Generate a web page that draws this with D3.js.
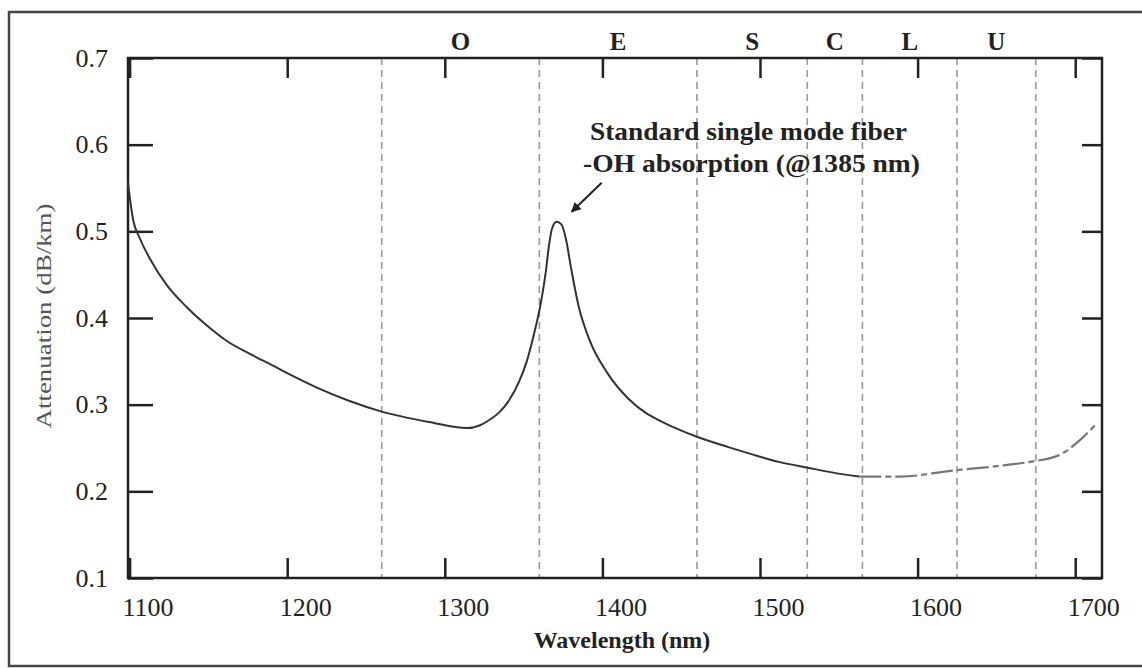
<!DOCTYPE html>
<meta charset="utf-8">
<body style="margin:0;background:#fff">
<script src="https://cdn.jsdelivr.net/npm/d3@7"></script>
<script>
	// data
	var wavelength = [1099, 1102, 1107, 1113, 1124, 1136, 1150, 1163, 1177, 1191, 1206, 1221, 1240, 1260, 1290, 1314,
		1322, 1328, 1335, 1340, 1347, 1352, 1356, 1361, 1364, 1366, 1368, 1371, 1374, 1377, 1380, 1385, 1392, 1403,
		1417, 1428, 1436, 1449, 1460, 1480, 1500, 1512, 1531, 1548, 1563, 1589, 1622, 1650, 1671, 1690, 1703, 1714];
	var attenuation = [0.556, 0.516, 0.490, 0.468, 0.437, 0.413, 0.390, 0.372, 0.358, 0.345, 0.331, 0.318, 0.304, 0.292, 0.280, 0.273,
		0.276, 0.282, 0.292, 0.303, 0.326, 0.350, 0.377, 0.418, 0.452, 0.482, 0.503, 0.511, 0.508, 0.490, 0.459, 0.413, 0.374, 0.337,
		0.306, 0.290, 0.282, 0.271, 0.263, 0.251, 0.240, 0.234, 0.227, 0.221, 0.217, 0.217, 0.224, 0.229, 0.234, 0.242, 0.259, 0.279];
	var bandEdges = [1260, 1360, 1460, 1530, 1565, 1625, 1675];
	var bandNames = ["O", "E", "S", "C", "L", "U"];
	var xTicks = [1100, 1200, 1300, 1400, 1500, 1600, 1700];
	var yTicks = [0.1, 0.2, 0.3, 0.4, 0.5, 0.6, 0.7];
	var peakNm = 1371, peakVal = 0.511;

	var W = 1142, H = 668;
	var pLeft = 128, pRight = 1102, pTop = 58, pBottom = 578;
	var serif = "'Liberation Serif', 'Times New Roman', serif";

	var svg = d3.select("body").append("svg")
		.attr("width", W)
		.attr("height", H)
		.style("display", "block");

	// outer frame
	svg.append("rect")
		.attr("x", 9).attr("y", 12)
		.attr("width", 1150).attr("height", 654)
		.attr("fill", "none")
		.attr("stroke", "#444")
		.attr("stroke-width", 2.5);

	var x = d3.scaleLinear().domain([1099, 1717]).range([pLeft, pRight]);
	var y = d3.scaleLinear().domain([0.1, 0.7]).range([pBottom, pTop]);

	// band borders (dashed)
	svg.append("g").selectAll("line")
		.data(bandEdges)
		.enter().append("line")
		.attr("x1", function(d){ return x(d); })
		.attr("x2", function(d){ return x(d); })
		.attr("y1", pTop).attr("y2", pBottom)
		.attr("stroke", "#999")
		.attr("stroke-width", 1.6)
		.attr("stroke-dasharray", "7,5");

	// band names above the plot
	svg.append("g").selectAll("text")
		.data(bandNames)
		.enter().append("text")
		.attr("x", function(d, i){ return x((bandEdges[i] + bandEdges[i+1]) / 2); })
		.attr("y", 50)
		.attr("text-anchor", "middle")
		.attr("font-family", serif)
		.attr("font-weight", "bold")
		.attr("font-size", 25)
		.attr("fill", "#222")
		.text(function(d){ return d; });

	// axes
	var xb = svg.append("g")
		.attr("transform", "translate(0," + pBottom + ")")
		.call(d3.axisBottom(x).tickValues(xTicks).tickSizeInner(-20).tickSizeOuter(0).tickPadding(20).tickFormat(d3.format("d")));
	xb.selectAll("text").attr("dx", 18);

	svg.append("g")
		.attr("transform", "translate(0," + pTop + ")")
		.call(d3.axisTop(x).tickValues(xTicks).tickSizeInner(-20).tickSizeOuter(0).tickFormat(""));

	svg.append("g")
		.attr("transform", "translate(" + pLeft + ",0)")
		.call(d3.axisLeft(y).tickValues(yTicks).tickSizeInner(-25).tickSizeOuter(0).tickPadding(20).tickFormat(d3.format(".1f")));

	svg.append("g")
		.attr("transform", "translate(" + pRight + ",0)")
		.call(d3.axisRight(y).tickValues(yTicks).tickSizeInner(-20).tickSizeOuter(0).tickFormat(""));

	svg.selectAll(".domain").remove();
	svg.selectAll(".tick line").attr("stroke", "#222").attr("stroke-width", 2.5);
	svg.selectAll(".tick text")
		.attr("font-family", serif)
		.attr("font-size", 26)
		.attr("fill", "#222");

	// plot border
	svg.append("rect")
		.attr("x", pLeft).attr("y", pTop)
		.attr("width", pRight - pLeft).attr("height", pBottom - pTop)
		.attr("fill", "none")
		.attr("stroke", "#222")
		.attr("stroke-width", 2.5);

	// attenuation curve
	var pts = wavelength.map(function(d, i){ return [d, attenuation[i]]; });
	var line = d3.line()
		.x(function(d){ return x(d[0]); })
		.y(function(d){ return y(d[1]); })
		.curve(d3.curveMonotoneX);

	svg.append("path")
		.datum(pts.filter(function(d){ return d[0] <= 1563; }))
		.attr("d", line)
		.attr("fill", "none")
		.attr("stroke", "#333")
		.attr("stroke-width", 2);

	svg.append("path")
		.datum(pts.filter(function(d){ return d[0] >= 1563; }))
		.attr("d", line)
		.attr("fill", "none")
		.attr("stroke", "#777")
		.attr("stroke-width", 2.2)
		.attr("stroke-dasharray", "22,4,6,4");

	// annotation
	svg.append("defs").append("marker")
		.attr("id", "arrow")
		.attr("viewBox", "0 0 10 10")
		.attr("refX", 9).attr("refY", 5)
		.attr("markerWidth", 5).attr("markerHeight", 5)
		.attr("orient", "auto")
		.append("path")
		.attr("d", "M0,0L10,5L0,10z")
		.attr("fill", "#222");

	var tipX = x(peakNm) + 15, tipY = y(peakVal) - 10;
	svg.append("line")
		.attr("x1", tipX + 30).attr("y1", tipY - 29)
		.attr("x2", tipX).attr("y2", tipY)
		.attr("stroke", "#222")
		.attr("stroke-width", 2)
		.attr("marker-end", "url(#arrow)");

	svg.append("text")
		.attr("x", 590).attr("y", 140)
		.attr("font-family", serif)
		.attr("font-weight", "bold")
		.attr("font-size", 25)
		.attr("textLength", 317)
		.attr("lengthAdjust", "spacingAndGlyphs")
		.attr("fill", "#222")
		.text("Standard single mode fiber");

	svg.append("text")
		.attr("x", 583).attr("y", 172)
		.attr("font-family", serif)
		.attr("font-weight", "bold")
		.attr("font-size", 25)
		.attr("textLength", 337)
		.attr("lengthAdjust", "spacingAndGlyphs")
		.attr("fill", "#222")
		.text("-OH absorption (@1385 nm)");

	// axis titles
	svg.append("text")
		.attr("x", 622).attr("y", 648)
		.attr("text-anchor", "middle")
		.attr("font-family", serif)
		.attr("font-weight", "bold")
		.attr("font-size", 24)
		.attr("fill", "#222")
		.text("Wavelength (nm)");

	svg.append("text")
		.attr("transform", "translate(51,316) rotate(-90)")
		.attr("text-anchor", "middle")
		.attr("font-family", serif)
		.attr("font-size", 22)
		.attr("textLength", 225)
		.attr("lengthAdjust", "spacingAndGlyphs")
		.attr("fill", "#555")
		.text("Attenuation (dB/km)");
</script>
</body>
